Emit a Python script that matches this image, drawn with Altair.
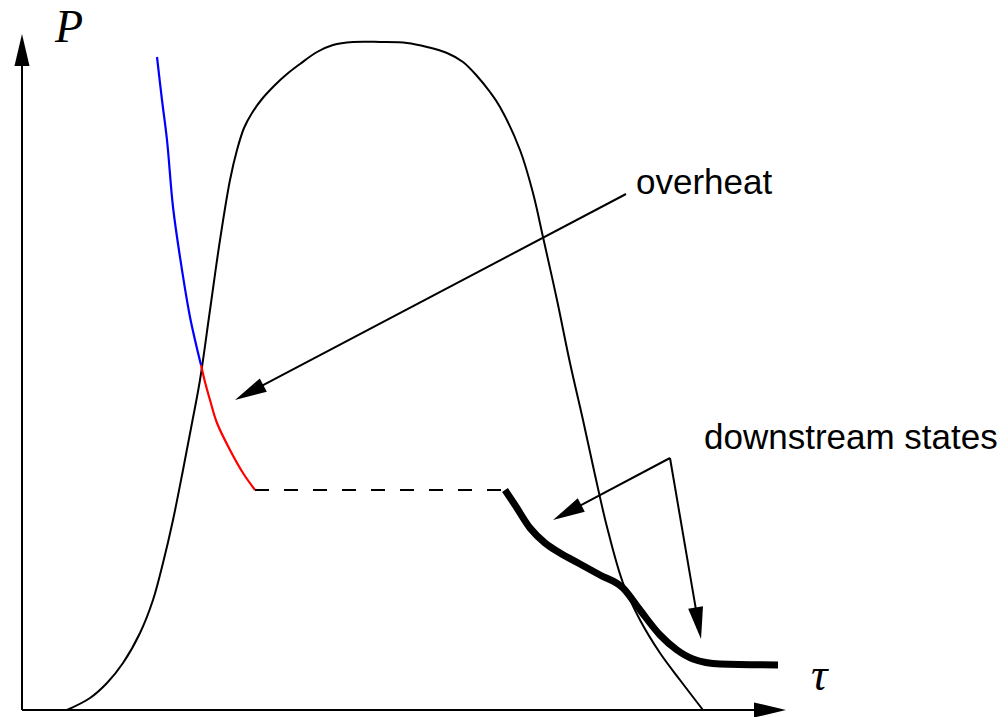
import math
import altair as alt
import pandas as pd

W, H = 1008, 717

# Saturation dome (screen coordinates, y grows downward)
dome_x = [67, 90, 107, 123, 140, 153, 163, 173, 183, 192, 200, 210, 220, 230, 237, 244, 252,
          262, 275, 287, 300, 317, 333, 353, 380, 407, 427, 447, 463, 477, 490, 500, 520, 533,
          543, 557, 570, 583, 595, 607, 623, 640, 660, 680, 703]
dome_y = [710, 698, 683, 663, 633, 600, 563, 520, 470, 423, 380, 310, 240, 180, 150, 128, 113,
          99, 85, 74, 64, 52, 45, 42, 42, 43, 47, 53, 62, 76, 92, 107, 150, 193,
          237, 300, 363, 420, 475, 527, 583, 620, 653, 680, 710]

# Upstream isentrope: stable part (blue) and overheated part (red)
blue_x = [157, 162, 167, 173, 180, 190, 201]
blue_y = [57, 100, 140, 207, 257, 317, 365]
red_x = [201, 205, 210, 217, 230, 243, 255]
red_y = [365, 382, 400, 423, 450, 473, 490]

# Jump (dashed) and downstream states (thick)
jump_x = [255, 502]
jump_y = [490, 490]
down_x = [505, 515, 530, 545, 560, 580, 600, 623, 640, 660, 677, 693, 720, 778]
down_y = [490, 505, 528, 543, 553, 564, 575, 588, 610, 635, 650, 659, 664, 665]

# Arrows: axes first, then annotation pointers
arrow_x0 = [22, 22, 626, 670, 670]
arrow_y0 = [710, 710, 194, 458, 458]
arrow_x1 = [22, 786, 235, 553, 701]
arrow_y1 = [34, 710, 400, 520, 639]
HEAD_LEN = 32

# Labels
math_text = ["P", "τ"]
math_x = [55, 811]
math_y = [42, 690]
note_text = ["overheat", "downstream states"]
note_x = [636, 704]
note_y = [194, 449]

xs = alt.Scale(domain=[0, W], nice=False, zero=False)
ys = alt.Scale(domain=[0, H], nice=False, zero=False, reverse=True)


def curve(xv, yv):
    return pd.DataFrame({"x": xv, "y": yv, "i": range(len(xv))})


def line_layer(df, **mark):
    return alt.Chart(df).mark_line(**mark).encode(
        x=alt.X("x:Q", scale=xs, axis=None),
        y=alt.Y("y:Q", scale=ys, axis=None),
        order=alt.Order("i:Q"),
    )


# Arrow shafts stop inside the head; heads are rotated symbols with tip at the origin
shaft_rows, head_rows = [], []
for k, (x0, y0, x1, y1) in enumerate(zip(arrow_x0, arrow_y0, arrow_x1, arrow_y1)):
    dx, dy = x1 - x0, y1 - y0
    L = math.hypot(dx, dy)
    ux, uy = dx / L, dy / L
    bx, by = x1 - ux * (HEAD_LEN - 4), y1 - uy * (HEAD_LEN - 4)
    shaft_rows += [{"a": k, "x": x0, "y": y0, "i": 0}, {"a": k, "x": bx, "y": by, "i": 1}]
    ang = math.degrees(math.atan2(dx, -dy)) % 360
    head_rows.append({"x": x1, "y": y1, "ang": ang})
shafts = pd.DataFrame(shaft_rows)
heads = pd.DataFrame(head_rows)

dome = line_layer(curve(dome_x, dome_y), color="black", strokeWidth=2, interpolate="catmull-rom")
blue = line_layer(curve(blue_x, blue_y), color="#0000ff", strokeWidth=2.2, interpolate="catmull-rom")
red = line_layer(curve(red_x, red_y), color="#ff0000", strokeWidth=2.2, interpolate="catmull-rom")
jump = line_layer(curve(jump_x, jump_y), color="black", strokeWidth=2.2, strokeDash=[14, 15])
downstream = line_layer(curve(down_x, down_y), color="black", strokeWidth=7,
                        interpolate="monotone", strokeCap="butt", strokeJoin="round")

shaft_layer = alt.Chart(shafts).mark_line(color="black", strokeWidth=2).encode(
    x=alt.X("x:Q", scale=xs, axis=None),
    y=alt.Y("y:Q", scale=ys, axis=None),
    detail="a:N",
    order=alt.Order("i:Q"),
)

head_layer = alt.Chart(heads).mark_point(
    shape="M0,0L-0.47,2L0.47,2Z", filled=True, color="black", opacity=1,
    size=HEAD_LEN * HEAD_LEN, strokeWidth=0,
).encode(
    x=alt.X("x:Q", scale=xs, axis=None),
    y=alt.Y("y:Q", scale=ys, axis=None),
    angle=alt.Angle("ang:Q", scale=None),
)

math_labels = alt.Chart(pd.DataFrame({"t": math_text, "x": math_x, "y": math_y})).mark_text(
    font="Liberation Serif", fontStyle="italic", fontSize=46, align="left",
    baseline="alphabetic", color="black",
).encode(
    x=alt.X("x:Q", scale=xs, axis=None),
    y=alt.Y("y:Q", scale=ys, axis=None),
    text="t:N",
)

note_labels = alt.Chart(pd.DataFrame({"t": note_text, "x": note_x, "y": note_y})).mark_text(
    font="Liberation Sans", fontSize=35, align="left", baseline="alphabetic", color="black",
).encode(
    x=alt.X("x:Q", scale=xs, axis=None),
    y=alt.Y("y:Q", scale=ys, axis=None),
    text="t:N",
)

chart = alt.layer(
    dome, blue, red, jump, downstream, shaft_layer, head_layer, math_labels, note_labels
).properties(
    width=W, height=H, padding=0, autosize="none", background="white"
).configure_view(stroke=None)

chart.save("out.html", embed_options={"renderer": "svg", "actions": False})
